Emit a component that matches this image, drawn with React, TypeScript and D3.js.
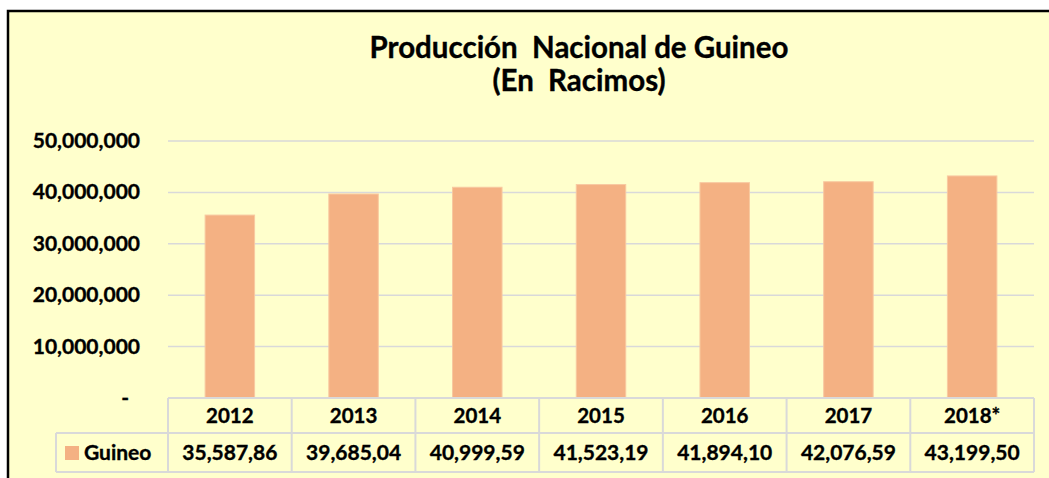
import React from "react";
import * as d3 from "d3";

const categories = ["2012", "2013", "2014", "2015", "2016", "2017", "2018*"];
const values = [35587860, 39685040, 40999590, 41523190, 41894100, 42076590, 43199500];
const valueLabels = ["35,587,86", "39,685,04", "40,999,59", "41,523,19", "41,894,10", "42,076,59", "43,199,50"];
const yTicks = [0, 10000000, 20000000, 30000000, 40000000, 50000000];
const seriesName = "Guineo";
const titleLines = ["Producción  Nacional de Guineo", "(En  Racimos)"];

const W = 1049;
const H = 478;
const plotLeft = 168;
const plotRight = 1034;
const plotTop = 141;
const plotBottom = 398;
const rowMid = 433;
const tableBottom = 472;
const legendLeft = 56;
const FONT = "Lato, 'Open Sans', sans-serif";
const BAR = "#F4B183";
const BG = "#FFFFCC";
const GRID = "#D9D9D9";
const WEIGHT = 700;
const textStyle = { stroke: "#000", strokeWidth: 0.35 };

export default function App() {
  const x = d3.scaleBand<string>().domain(categories).range([plotLeft, plotRight]).paddingInner(0.6).paddingOuter(0.3);
  const col = d3.scaleBand<string>().domain(categories).range([plotLeft, plotRight]);
  const y = d3.scaleLinear().domain([0, 50000000]).range([plotBottom, plotTop]);
  const fmt = (v: number) => (v === 0 ? "-" : d3.format(",")(v));

  return (
    <svg width={W} height={H} style={{ position: "absolute", left: 0, top: 0 }} fontFamily={FONT}>
      <rect x={0} y={0} width={W} height={H} fill="#ffffff" />
      <rect x={8} y={11} width={W + 10} height={H + 10} fill={BG} stroke="#000" strokeWidth={2.5} />
      {titleLines.map((t, i) => (
        <text key={i} x={579} y={58 + i * 33} textAnchor="middle" fontSize={29.5} fontWeight={WEIGHT} fill="#000" style={{ whiteSpace: "pre", ...textStyle }}>
          {t}
        </text>
      ))}
      {yTicks.map((t) => (
        <g key={t}>
          {t > 0 && <line x1={plotLeft} x2={plotRight} y1={y(t)} y2={y(t)} stroke={GRID} strokeWidth={1.5} />}
          <text x={t === 0 ? 129 : 140} y={y(t) + 7} textAnchor="end" fontSize={21} fontWeight={WEIGHT} fill="#000" style={textStyle}>
            {fmt(t)}
          </text>
        </g>
      ))}
      {categories.map((c, i) => (
        <rect key={c} x={x(c)} y={y(values[i])} width={x.bandwidth()} height={plotBottom - y(values[i])} fill={BAR} stroke="#F8C9A0" strokeWidth={1} />
      ))}
      {/* data table */}
      <g stroke={GRID} strokeWidth={2} fill="none">
        <line x1={plotLeft} x2={plotRight} y1={plotBottom} y2={plotBottom} />
        <line x1={legendLeft} x2={plotRight} y1={rowMid} y2={rowMid} />
        <line x1={legendLeft} x2={plotRight} y1={tableBottom} y2={tableBottom} />
        <line x1={legendLeft} x2={legendLeft} y1={rowMid} y2={tableBottom} />
        {categories.map((c) => (
          <line key={c} x1={col(c)} x2={col(c)} y1={plotBottom} y2={tableBottom} />
        ))}
        <line x1={plotRight} x2={plotRight} y1={plotBottom} y2={tableBottom} />
      </g>
      {categories.map((c, i) => (
        <g key={c}>
          <text x={(col(c) as number) + col.bandwidth() / 2} y={423} textAnchor="middle" fontSize={20.5} fontWeight={WEIGHT} fill="#000" style={textStyle}>
            {c}
          </text>
          <text x={(col(c) as number) + col.bandwidth() / 2} y={460} textAnchor="middle" fontSize={21} fontWeight={WEIGHT} fill="#000" style={textStyle}>
            {valueLabels[i]}
          </text>
        </g>
      ))}
      <rect x={65} y={446} width={14} height={14} fill={BAR} />
      <text x={84} y={460} fontSize={21} fontWeight={WEIGHT} fill="#000" style={textStyle}>
        {seriesName}
      </text>
    </svg>
  );
}
